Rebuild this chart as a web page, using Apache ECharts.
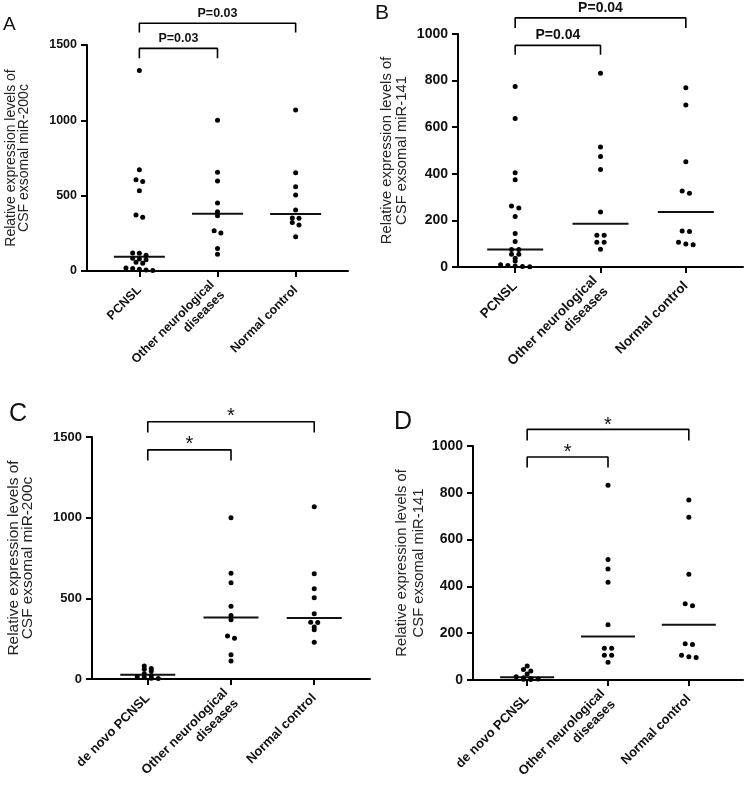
<!DOCTYPE html>
<html><head><meta charset="utf-8">
<script src="https://cdn.jsdelivr.net/npm/echarts@6/dist/echarts.min.js"></script>
<style>html,body{margin:0;padding:0;background:#fff}#c{width:749px;height:786px}</style>
</head><body><div id="c"></div>
<script>
// ---- data ----
const categoriesAll = ['PCNSL', 'Other neurological\ndiseases', 'Normal control'];
const categoriesDeNovo = ['de novo PCNSL', 'Other neurological\ndiseases', 'Normal control'];
const yTicks200c = [0, 500, 1000, 1500];
const yTicks141 = [0, 200, 400, 600, 800, 1000];
const miR200c_PCNSL = [1330, 672, 606, 594, 533, 372, 356, 120, 117, 105, 84, 80, 74, 58, 52, 20, 16, 12, 6, 4];
const miR200c_Other = [1000, 655, 597, 451, 394, 367, 267, 252, 150, 111];
const miR200c_Normal = [1068, 652, 560, 504, 405, 352, 350, 322, 306, 228];
const miR200c_DeNovo = [80, 65, 60, 50, 32, 22, 14, 9, 5, 3];
const miR141_PCNSL = [775, 637, 405, 375, 262, 253, 217, 144, 109, 75, 75, 55, 55, 38, 26, 10, 6, 4, 2, 1];
const miR141_Other = [832, 515, 474, 418, 236, 136, 136, 106, 106, 76];
const miR141_Normal = [769, 695, 452, 326, 317, 155, 152, 106, 99, 96];
const miR141_DeNovo = [60, 45, 38, 26, 14, 10, 6, 4, 3, 2];
const sigA = ['P=0.03', 'P=0.03'];
const sigB = ['P=0.04', 'P=0.04'];
const sigC = ['*', '*'];
const sigD = ['*', '*'];
const name200c = 'Relative expression levels of\nCSF exsomal miR-200c';
const name141 = 'Relative expression levels of\nCSF exsomal miR-141';

// ---- layout ----
const FONT = '"Liberation Sans", Arial, Helvetica, sans-serif';
const panels = [
  {letter:'A', cats:categoriesAll, groups:[miR200c_PCNSL, miR200c_Other, miR200c_Normal], ticks:yTicks200c, name:name200c, sig:sigA,
   grid:{left:87, top:45, width:261, height:226}, tickFs:12.5, catFs:12.5, nameFs:14, nameLh:13.5, nameGap:56, sigFs:12.5, sigBold:true,
   letterFs:19, letterPos:[3,25], br:{lo:[0.985,0.941], hi:[1.096,1.055]}, sigOff:[-10,-10], step:6.7, medW:51},
  {letter:'B', cats:categoriesAll, groups:[miR141_PCNSL, miR141_Other, miR141_Normal], ticks:yTicks141, name:name141, sig:sigB,
   grid:{left:458, top:34, width:285, height:233}, tickFs:14, catFs:13.5, nameFs:14.8, nameLh:14.5, nameGap:49, sigFs:14, sigBold:true,
   letterFs:21, letterPos:[375,13], br:{lo:[0.951,0.911], hi:[1.069,1.026]}, sigOff:[-10.5,-10], step:7.3, medW:56},
  {letter:'C', cats:categoriesDeNovo, groups:[miR200c_DeNovo, miR200c_Other, miR200c_Normal], ticks:yTicks200c, name:name200c, sig:sigC,
   grid:{left:92, top:437, width:278, height:242}, tickFs:13, catFs:13, nameFs:15.4, nameLh:14.5, nameGap:57, sigFs:20, sigBold:false,
   letterFs:25, letterPos:[9,414], br:{lo:[0.947,0.903], hi:[1.063,1.019]}, sigOff:[-5,-5], step:7, medW:55},
  {letter:'D', cats:categoriesDeNovo, groups:[miR141_DeNovo, miR141_Other, miR141_Normal], ticks:yTicks141, name:name141, sig:sigD,
   grid:{left:473, top:446, width:270, height:234}, tickFs:14, catFs:13, nameFs:14.8, nameLh:17, nameGap:46, sigFs:20, sigBold:false,
   letterFs:25, letterPos:[394,422], br:{lo:[0.953,0.908], hi:[1.071,1.024]}, sigOff:[-5,-4], step:7.3, medW:54}
];

function median(arr) {
  const s = arr.slice().sort((a, b) => a - b);
  const n = s.length;
  return n % 2 ? s[(n - 1) / 2] : (s[n / 2 - 1] + s[n / 2]) / 2;
}
// row-based scatter-dot arrangement (pixel offsets only, values untouched)
function swarm(values, gi, pxPerUnit, step, thr) {
  const sorted = values.slice().sort((a, b) => b - a);
  const rows = []; let cur = null;
  for (const v of sorted) {
    if (cur && (cur[0] - v) * pxPerUnit <= thr) cur.push(v);
    else { cur = [v]; rows.push(cur); }
  }
  const out = [];
  rows.forEach(r => r.forEach((v, k) => out.push({ value: [gi, v], symbolOffset: [(k - (r.length - 1) / 2) * step, 0] })));
  return out;
}

const option = { animation: false, backgroundColor: '#fff', grid: [], xAxis: [], yAxis: [], series: [], graphic: [] };
panels.forEach((p, i) => {
  const yMax = p.ticks[p.ticks.length - 1];
  const interval = p.ticks[1] - p.ticks[0];
  const ppu = p.grid.height / yMax;
  option.grid.push(Object.assign({ containLabel: false, outerBoundsMode: 'none' }, p.grid));
  const axisLineStyle = { color: '#000', width: 2 };
  option.xAxis.push({
    gridIndex: i, type: 'value', min: -0.67, max: 2.67, splitLine: { show: false },
    axisLine: { show: true, onZero: false, lineStyle: axisLineStyle },
    axisTick: { show: true, customValues: [0, 1, 2], length: 6, lineStyle: axisLineStyle },
    axisLabel: { customValues: [0, 1, 2], formatter: v => p.cats[Math.round(v)], rotate: 45, fontWeight: 'bold',
      fontSize: p.catFs, color: '#111', margin: 17, fontFamily: FONT, lineHeight: p.catFs + 2 }
  });
  option.yAxis.push({
    gridIndex: i, type: 'value', min: 0, max: yMax, interval: interval, splitLine: { show: false },
    axisLine: { show: true, onZero: false, lineStyle: axisLineStyle },
    axisTick: { show: true, length: 6, lineStyle: axisLineStyle },
    axisLabel: { customValues: p.ticks, formatter: v => String(v), fontWeight: 'bold', fontSize: p.tickFs, color: '#111', margin: 10, fontFamily: FONT },
    name: p.name, nameLocation: 'middle', nameGap: p.nameGap, nameRotate: 90,
    nameTextStyle: { fontSize: p.nameFs, color: '#222', fontFamily: FONT, lineHeight: p.nameLh, align: 'center' }
  });
  // dots
  const dots = [];
  p.groups.forEach((g, gi) => dots.push(...swarm(g, gi, ppu, p.step, 2.5)));
  option.series.push({ type: 'scatter', xAxisIndex: i, yAxisIndex: i, symbol: 'circle', symbolSize: 5,
    itemStyle: { color: '#000', opacity: 1 }, data: dots, z: 3 });
  // median lines
  option.series.push({ type: 'scatter', xAxisIndex: i, yAxisIndex: i, symbol: 'rect', symbolSize: [p.medW, 2],
    itemStyle: { color: '#111', opacity: 1 }, data: p.groups.map((g, gi) => [gi, median(g)]), z: 2 });
  // brackets
  [[1, p.br.lo, p.sig[0], p.sigOff[0]], [2, p.br.hi, p.sig[1], p.sigOff[1]]].forEach(([to, lv, txt, off]) => {
    const bar = lv[0] * yMax, leg = lv[1] * yMax;
    option.series.push({ type: 'line', xAxisIndex: i, yAxisIndex: i, clip: false, symbol: 'none',
      lineStyle: { color: '#000', width: 1.6 }, data: [[0, leg], [0, bar], [to, bar], [to, leg]], z: 4 });
    option.series.push({ type: 'scatter', xAxisIndex: i, yAxisIndex: i, clip: false, symbolSize: 0,
      itemStyle: { opacity: 1 }, data: [[to / 2, bar]], z: 4,
      label: { show: true, position: 'inside', offset: [0, off], formatter: () => txt, color: '#111', opacity: 1,
        fontSize: p.sigFs, fontWeight: p.sigBold ? 'bold' : 'normal', fontFamily: FONT } });
  });
  option.graphic.push({ type: 'text', left: p.letterPos[0], top: p.letterPos[1] - p.letterFs / 2,
    style: { text: p.letter, fontSize: p.letterFs, fill: '#111', fontFamily: FONT } });
});

const chart = echarts.init(document.getElementById('c'), null, { renderer: 'canvas' });
chart.setOption(option);
</script>
</body></html>
